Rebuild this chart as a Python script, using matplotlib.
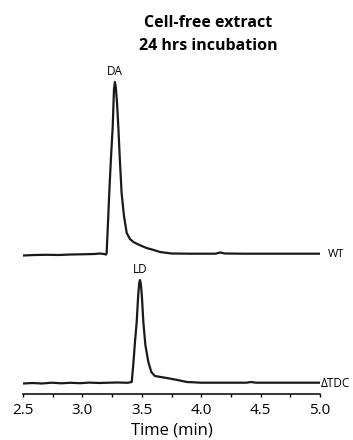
import matplotlib
matplotlib.use("Agg")
import matplotlib.pyplot as plt
from matplotlib.ticker import MultipleLocator, FormatStrFormatter

plt.rcParams['font.family'] = ['Open Sans', 'DejaVu Sans']

# WT trace: time (min) and signal (arbitrary units, above own baseline)
wt_time = [2.50, 2.60, 2.70, 2.80, 2.90, 3.00, 3.10, 3.15, 3.18, 3.20,
           3.204, 3.215, 3.226, 3.24, 3.255, 3.266, 3.274, 3.282, 3.292,
           3.302, 3.315, 3.33, 3.35, 3.373, 3.40, 3.429, 3.48, 3.54,
           3.60, 3.653, 3.75, 3.90, 4.05, 4.12, 4.16, 4.20, 4.35, 4.60,
           4.80, 5.00]
wt_signal = [-1.5, -1.0, -0.8, -1.0, -0.5, -0.3, 0.0, 0.5, 0.0, -0.5,
             1, 30, 61, 95, 127, 165, 172, 166, 150,
             128, 95, 61, 38, 21, 15, 12, 9, 6,
             4, 2, 0.5, 0.3, 0.3, 0.3, 1.5, 0.5, 0.3, 0.3,
             0.3, 0.3]

# ΔTDC trace
tdc_time = [2.50, 2.58, 2.66, 2.74, 2.82, 2.90, 2.98, 3.06, 3.14, 3.22,
            3.30, 3.38, 3.415, 3.428, 3.442, 3.457, 3.47, 3.478, 3.485,
            3.492, 3.50, 3.513, 3.53, 3.555, 3.58, 3.61, 3.66, 3.71,
            3.80, 3.88, 4.00, 4.20, 4.38, 4.42, 4.46, 4.60, 4.80, 5.00]
tdc_signal = [-0.5, 0.0, -0.5, 0.3, -0.3, 0.2, -0.2, 0.4, 0.0, 0.3,
              0.5, 0.2, 1, 18, 40, 61, 88, 100, 103,
              99, 88, 61, 38, 21, 11, 7, 6, 5,
              3, 1, 0.3, 0.3, 0.3, 1.0, 0.3, 0.3, 0.3, 0.3]

wt_offset = 129
trace_color = '#1a1a1a'

fig = plt.figure(figsize=(3.53, 4.40), dpi=100)
ax = fig.add_axes([23 / 353, 46 / 440, 297 / 353, 334 / 440])

ax.plot(wt_time, [v + wt_offset for v in wt_signal], color=trace_color, lw=1.6)
ax.plot(tdc_time, tdc_signal, color=trace_color, lw=1.6)

ax.set_xlim(2.5, 5.0)
ax.set_ylim(-11, 323)

# peak labels
ax.annotate('DA', (3.274, 172 + wt_offset), xytext=(0, 3), textcoords='offset points',
            ha='center', va='bottom', fontsize=8.5)
ax.annotate('LD', (3.485, 103), xytext=(0, 3), textcoords='offset points',
            ha='center', va='bottom', fontsize=8.5)

# trace names
ax.text(5.07, wt_offset, 'WT', ha='left', va='center', fontsize=8, clip_on=False)
ax.text(5.01, 0, 'ΔTDC', ha='left', va='center', fontsize=8.5, clip_on=False)

for side in ['left', 'right', 'top']:
    ax.spines[side].set_visible(False)
ax.spines['bottom'].set_linewidth(1.1)
ax.yaxis.set_visible(False)
ax.xaxis.set_major_locator(MultipleLocator(0.5))
ax.xaxis.set_minor_locator(MultipleLocator(0.25))
ax.xaxis.set_major_formatter(FormatStrFormatter('%.1f'))
ax.tick_params(axis='x', which='both', direction='out', length=2.5, width=1.0, pad=4)
ax.tick_params(axis='x', which='major', labelsize=11)
ax.set_xlabel('Time (min)', fontsize=12, labelpad=3)

fig.text(208 / 353, 1 - 23 / 440, 'Cell-free extract', ha='center', va='center',
         fontsize=11.5, fontweight='bold')
fig.text(208 / 353, 1 - 46 / 440, '24 hrs incubation', ha='center', va='center',
         fontsize=11.5, fontweight='bold')

fig.savefig('out.png', dpi=100)
